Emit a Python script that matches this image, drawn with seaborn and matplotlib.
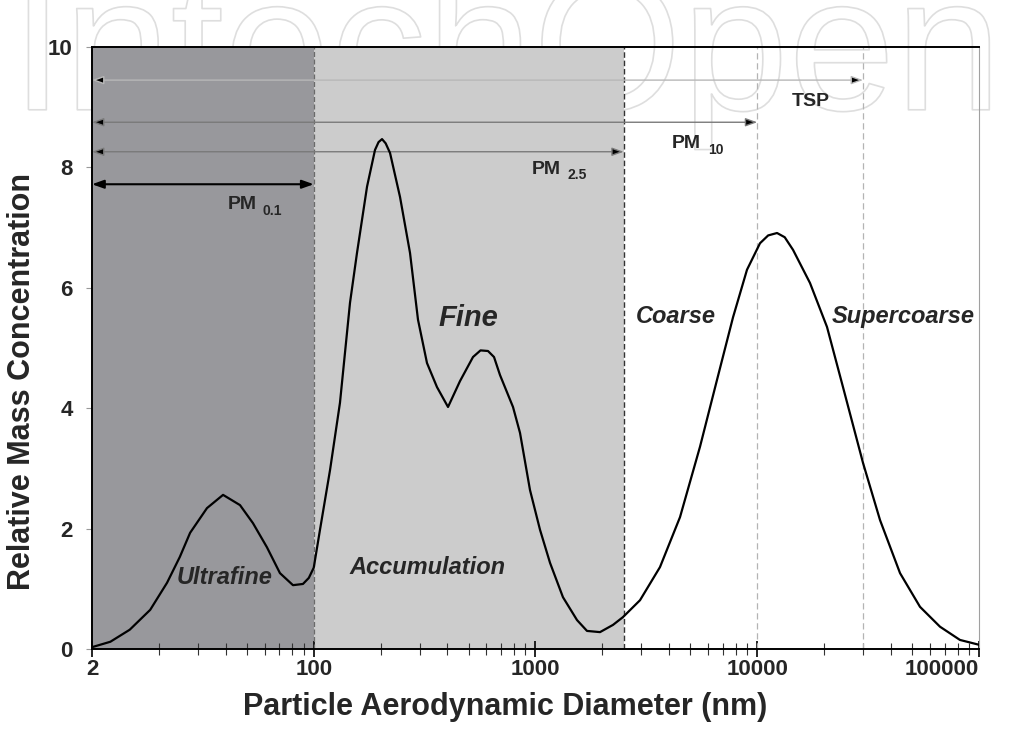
"""
plot.py
=======
Particle size distribution: relative mass
concentration vs aerodynamic diameter.
"""

import matplotlib
matplotlib.use("Agg")
import matplotlib.pyplot as plt
import matplotlib.patheffects as pe
from matplotlib.ticker import LogLocator, NullFormatter
import numpy as np
import pandas as pd
import seaborn as sns

# ---- data ----
diameter_nm = [
    10, 12.1, 14.8, 18.3, 21.8, 24.9, 27.7, 33.0, 39.0, 46.5,
    53.2, 61.5, 70.4, 80.6, 89.4, 95, 100, 106.7, 118.4, 131.3,
    145.7, 156.7, 173.9, 188.9, 196, 203.2, 211, 220.8, 244.9, 271.7,
    295.2, 324.1, 359.6, 403.2, 456.6, 522.6, 565, 610.6, 650, 691.8,
    791.7, 851.4, 944.5, 1048, 1163, 1330, 1539, 1707, 1954, 2236,
    2481, 2960, 3642, 4484, 5519, 6584, 7776, 8990, 10290, 11200,
    12280, 13300, 14500, 17290, 20630, 24360, 29990, 35790, 44040, 54190,
    66690, 82070, 100000,
]
concentration = [
    0.03, 0.12, 0.32, 0.65, 1.10, 1.53, 1.93, 2.34, 2.56, 2.39,
    2.09, 1.69, 1.26, 1.06, 1.08, 1.18, 1.35, 1.98, 2.97, 4.09,
    5.75, 6.58, 7.68, 8.29, 8.42, 8.47, 8.40, 8.24, 7.51, 6.58,
    5.47, 4.75, 4.35, 4.02, 4.45, 4.85, 4.96, 4.95, 4.85, 4.55,
    4.02, 3.59, 2.64, 1.98, 1.43, 0.86, 0.48, 0.30, 0.28, 0.40,
    0.53, 0.81, 1.36, 2.19, 3.36, 4.47, 5.51, 6.30, 6.74, 6.87,
    6.91, 6.84, 6.63, 6.08, 5.35, 4.35, 3.09, 2.14, 1.26, 0.70,
    0.37, 0.15, 0.07,
]

x_tick_pos = [10, 100, 1000, 10000, 100000]
x_tick_labels = ["2", "100", "1000", "10000", "100000"]
y_ticks = [0, 2, 4, 6, 8, 10]

# size classes (nm)
ultrafine_span = (10, 100)
accumulation_span = (100, 2500)

# PM cut-offs: label, upper size, height
pm_names = ["TSP", "PM10", "PM2.5", "PM0.1"]
pm_upper = [30000, 10000, 2500, 100]
pm_level = [9.45, 8.75, 8.26, 7.72]

df = pd.DataFrame({
    "diameter": diameter_nm,
    "conc": concentration,
})

sns.set_style("white")
plt.rcParams["font.family"] = ["Liberation Sans", "DejaVu Sans"]

fig = plt.figure(figsize=(10.12, 7.52), dpi=100)
ax = fig.add_axes([0.0909, 0.137, 0.8765, 0.8005])
ax.set_facecolor("none")
ax.set_xscale("log")

# shaded size regions
ax.axvspan(*ultrafine_span, color="#98989c", lw=0, zorder=0)
ax.axvspan(*accumulation_span, color="#cccccc", lw=0, zorder=0)

# vertical cut lines
ax.axvline(100, color="#6a6a6a", lw=0.9, ls=(0, (4, 2)), zorder=1)
ax.axvline(2500, color="#333333", lw=1.0, ls=(0, (4, 2)), zorder=1)
ax.axvline(10000, color="#b4b4b4", lw=0.9, ls=(0, (5, 3)), zorder=1)
ax.axvline(30000, color="#b4b4b4", lw=0.9, ls=(0, (5, 3)), zorder=1)

# PM range arrows
line_cols = ["#b8b8b8", "#7a7a7a", "#7a7a7a", "black"]
line_w = [1.0, 1.0, 1.0, 1.5]
for name, upper, lvl, col, lw in zip(pm_names, pm_upper, pm_level,
                                     line_cols, line_w):
    ax.annotate(
        "", xy=(upper, lvl), xytext=(10, lvl),
        arrowprops=dict(
            arrowstyle="<|-|>,head_length=0.7,head_width=0.25",
            facecolor="black", edgecolor=col, lw=lw,
            shrinkA=0, shrinkB=0),
        zorder=2,
    )

# the distribution curve
sns.lineplot(
    data=df, x="diameter", y="conc", ax=ax,
    color="black", linewidth=1.6, sort=False,
    estimator=None, zorder=3,
)

ax.set_xlim(10, 100000)
ax.set_ylim(0, 10)

# PM labels with subscripts
pm_bold = dict(fontsize=14, fontweight="bold", va="center", ha="left")
sub_bold = dict(fontsize=10, fontweight="bold", va="center", ha="left")
ax.text(14360, 9.09, "TSP", **pm_bold)
ax.text(4127, 8.39, "PM", **pm_bold)
ax.text(5998, 8.29, "10", **sub_bold)
ax.text(963, 7.97, "PM", **pm_bold)
ax.text(1387, 7.87, "2.5", **sub_bold)
ax.text(41.0, 7.38, "PM", **pm_bold)
ax.text(59.0, 7.28, "0.1", **sub_bold)

# region names
it = dict(fontweight="bold", fontstyle="italic", ha="center", va="center")
ax.text(39.8, 1.18, "Ultrafine", fontsize=17, **it)
ax.text(327, 1.35, "Accumulation", fontsize=17, **it)
ax.text(497, 5.5, "Fine", fontsize=21, **it)
ax.text(4305, 5.52, "Coarse", fontsize=17, **it)
ax.text(45400, 5.52, "Supercoarse", fontsize=17, **it)

# axes, ticks
ax.set_xticks(x_tick_pos)
ax.set_xticklabels(x_tick_labels)
ax.xaxis.set_minor_locator(LogLocator(base=10, subs=np.arange(2, 10)))
ax.xaxis.set_minor_formatter(NullFormatter())
ax.set_yticks(y_ticks)

ax.tick_params(axis="x", which="major", direction="inout", length=12,
               width=1.2, color="black", labelsize=16, pad=1,
               bottom=True)
ax.tick_params(axis="x", which="minor", direction="inout", length=9,
               width=0.8, color="#333333", bottom=True)
ax.tick_params(axis="y", which="major", direction="out", length=4,
               width=0.8, color="#999999", labelsize=16, pad=10,
               left=True)
for lab in ax.get_xticklabels() + ax.get_yticklabels():
    lab.set_fontweight("bold")
ax.get_xticklabels()[-1].set_ha("right")

for side in ["left", "bottom", "top"]:
    ax.spines[side].set_color("black")
    ax.spines[side].set_linewidth(1.4)
ax.spines["right"].set_color("#a0a0a0")
ax.spines["right"].set_linewidth(0.8)

ax.set_xlabel("Particle Aerodynamic Diameter (nm)",
              fontsize=22, fontweight="bold")
ax.set_ylabel("Relative Mass Concentration",
              fontsize=22, fontweight="bold")
ax.xaxis.label.set_va("center")
ax.yaxis.label.set_va("center")
ax.xaxis.set_label_coords(0.466, -0.096)
ax.yaxis.set_label_coords(-0.079, 0.4435)

# faint publisher watermark, outline only, behind the plot
fig.text(0.5, 0.854, "IntechOpen", fontsize=138, color="none",
         ha="center", va="baseline", zorder=-1,
         path_effects=[pe.Stroke(linewidth=1.2, foreground="#dedede")])

fig.savefig("out.png", dpi=100)
print("Saved: out.png")
